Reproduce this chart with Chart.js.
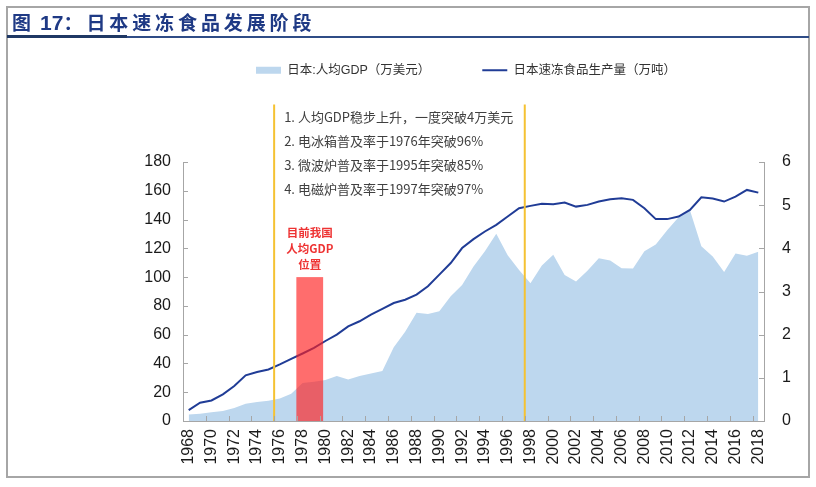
<!DOCTYPE html>
<html>
<head>
<meta charset="utf-8">
<script src="https://cdn.jsdelivr.net/npm/chart.js@4.4.1/dist/chart.umd.min.js"></script>
<style>
  html, body { margin: 0; padding: 0; background: #fff; }
  #wrap { position: relative; width: 816px; height: 487px; overflow: hidden; }
  #c { position: absolute; left: 0; top: 0; }
  #frame { position: absolute; left: 6px; top: 6px; width: 800px; height: 468px; border: 2px solid #A6A6A6; }
  #rule { position: absolute; left: 7px; top: 36px; width: 802px; height: 2px; background: #2F4C86; }
  #rule2 { position: absolute; left: 7px; top: 35px; width: 120px; height: 3px; background: #1F3864; }
  #title { position: absolute; left: 12px; top: 8px; height: 28px; line-height: 28px; color: #1F3A85;
           font-weight: bold; white-space: nowrap; font-family: 'Noto Sans CJK SC', sans-serif; font-size: 19px; }
  #title .num { font-family: 'Liberation Sans', Arial, sans-serif; font-size: 21px; margin-left: 9px; }
  #title .sp { letter-spacing: 3.9px; margin-left: 4px; }
</style>
</head>
<body>
<div id="wrap">
  <canvas id="c" width="816" height="487"></canvas>
  <div id="frame"></div>
  <div id="rule"></div>
  <div id="rule2"></div>
  <div id="title"><span>图</span><span class="num">17</span><span>：</span><span class="sp">日本速冻食品发展阶段</span></div>
</div>
<script>
// ---------------- data ----------------
const years = ['1968','1969','1970','1971','1972','1973','1974','1975','1976','1977',
  '1978','1979','1980','1981','1982','1983','1984','1985','1986','1987',
  '1988','1989','1990','1991','1992','1993','1994','1995','1996','1997',
  '1998','1999','2000','2001','2002','2003','2004','2005','2006','2007',
  '2008','2009','2010','2011','2012','2013','2014','2015','2016','2017','2018'];

// 日本:人均GDP（万美元）— right axis
const gdpPerCapita = [0.15,0.17,0.20,0.23,0.30,0.40,0.44,0.47,0.52,0.63,
  0.88,0.91,0.95,1.04,0.96,1.04,1.10,1.16,1.71,2.07,
  2.51,2.48,2.54,2.89,3.15,3.58,3.93,4.34,3.84,3.50,
  3.19,3.60,3.85,3.38,3.23,3.48,3.77,3.72,3.54,3.53,
  3.93,4.09,4.42,4.72,4.88,4.05,3.81,3.45,3.88,3.83,3.92];

// 日本速冻食品生产量（万吨）— left axis
const frozenFoodOutput = [7.6,12.7,14.3,18.5,24.3,31.7,34.0,35.8,39.3,43.2,
  46.9,50.8,55.6,60.0,65.8,69.3,74.0,77.9,82.0,84.3,
  87.8,93.6,101.7,109.8,120.2,126.4,131.7,136.3,142.1,147.9,
  149.5,151.0,150.6,151.8,149.0,150.2,152.5,154.1,154.8,153.7,
  147.9,140.3,140.3,142.1,146.7,155.5,154.6,152.5,155.9,160.6,158.7];

const seriesNames = ['日本:人均GDP（万美元）', '日本速冻食品生产量（万吨）'];
const leftAxisRange = [0, 180, 20];   // min, max, step
const rightAxisRange = [0, 6, 1];

// annotations (category positions / axis values)
const markerPositions = [7.5, 29.5];       // boundaries before 1976 and 1998
const markerTopValue = 220;                // left-axis value where the yellow lines start
const milestoneNotes = ['1. 人均GDP稳步上升，一度突破4万美元',
  '2. 电冰箱普及率于1976年突破96%',
  '3. 微波炉普及率于1995年突破85%',
  '4. 电磁炉普及率于1997年突破97%'];
const redBandRange = [9.45, 11.8];         // category positions
const redBandTop = 100;                    // left-axis value
const redBandLabel = ['目前我国', '人均GDP', '位置'];

// ---------------- styles ----------------
const AXIS_COLOR = '#A6A6A6';
const AREA_COLOR = '#BDD7EE';
const LINE_COLOR = '#203C96';
const TICK_FONT = { family: "'Liberation Sans', Arial, sans-serif", size: 16 };
const legendBlockHeight = 150;

const legendSpace = {
  id: 'legendSpace',
  beforeLayout(chart) {
    const lg = chart.legend;
    if (lg && !lg._patched) {
      const fit = lg.fit;
      lg.fit = function () { fit.call(this); this.height = legendBlockHeight; };
      lg._patched = true;
    }
  }
};

const annotations = {
  id: 'annotations',
  afterDatasetsDraw(chart) {
    const { ctx, scales: { x, y } } = chart;
    ctx.save();
    const bx0 = x.getPixelForValue(redBandRange[0]);
    const bx1 = x.getPixelForValue(redBandRange[1]);
    const by0 = y.getPixelForValue(redBandTop);
    const by1 = y.getPixelForValue(0);
    ctx.fillStyle = 'rgba(255,30,30,0.65)';
    ctx.fillRect(bx0, by0, bx1 - bx0, by1 - by0);

    const top = y.getPixelForValue(markerTopValue);
    ctx.strokeStyle = '#F5C232';
    ctx.lineWidth = 2;
    markerPositions.forEach(v => {
      const px = x.getPixelForValue(v);
      ctx.beginPath(); ctx.moveTo(px, top); ctx.lineTo(px, by1); ctx.stroke();
    });

    ctx.font = "13px 'Noto Sans CJK SC'";
    ctx.fillStyle = '#404040';
    ctx.textBaseline = 'middle';
    ctx.textAlign = 'left';
    const nx = x.getPixelForValue(markerPositions[0]) + 10;
    milestoneNotes.forEach((t, i) => ctx.fillText(t, nx, top + 13 + i * 24));

    ctx.font = "bold 11.5px 'Noto Sans CJK SC'";
    ctx.fillStyle = '#EE3333';
    ctx.textAlign = 'center';
    const cx = (bx0 + bx1) / 2;
    redBandLabel.forEach((t, i) => ctx.fillText(t, cx, by0 - 44 + i * 16));
    ctx.restore();
  }
};

const innerTicks = {
  id: 'innerTicks',
  afterDraw(chart) {
    const { ctx, chartArea: a, scales: { x, y, y1 } } = chart;
    ctx.save();
    ctx.strokeStyle = AXIS_COLOR;
    ctx.lineWidth = 1;
    ctx.beginPath();
    for (let i = 0; i <= years.length; i += 2) {
      const px = Math.round(x.getPixelForValue(i - 0.5)) + 0.5;
      ctx.moveTo(px, a.bottom); ctx.lineTo(px, a.bottom - 5);
    }
    y.ticks.forEach(t => {
      const py = Math.round(y.getPixelForValue(t.value)) + 0.5;
      ctx.moveTo(a.left, py); ctx.lineTo(a.left + 5, py);
    });
    y1.ticks.forEach(t => {
      const py = Math.round(y1.getPixelForValue(t.value)) + 0.5;
      ctx.moveTo(a.right, py); ctx.lineTo(a.right - 5, py);
    });
    ctx.stroke();
    ctx.restore();
  }
};

new Chart(document.getElementById('c'), {
  type: 'line',
  data: {
    labels: years,
    datasets: [
      { label: seriesNames[0], data: gdpPerCapita, yAxisID: 'y1', fill: 'origin',
        backgroundColor: AREA_COLOR, borderWidth: 0, pointRadius: 0, tension: 0, order: 2 },
      { label: seriesNames[1], data: frozenFoodOutput, yAxisID: 'y', fill: false,
        borderColor: LINE_COLOR, borderWidth: 2, pointRadius: 0, tension: 0, order: 1 }
    ]
  },
  options: {
    responsive: false,
    animation: false,
    layout: { padding: { left: 138, right: 22, top: 12, bottom: 16 } },
    plugins: {
      tooltip: { enabled: false },
      legend: {
        display: true,
        position: 'top',
        labels: {
          usePointStyle: true,
          pointStyleWidth: 25,
          boxHeight: 7,
          padding: 52,
          color: '#333',
          font: { family: "'Liberation Sans', Arial, 'Noto Sans CJK SC', sans-serif", size: 12.5 },
          generateLabels: () => [
            { text: seriesNames[0], fillStyle: AREA_COLOR, strokeStyle: 'rgba(0,0,0,0)', lineWidth: 0,
              pointStyle: 'rect', hidden: false, datasetIndex: 0, fontColor: '#333' },
            { text: seriesNames[1], fillStyle: LINE_COLOR, strokeStyle: LINE_COLOR, lineWidth: 2,
              pointStyle: 'line', hidden: false, datasetIndex: 1, fontColor: '#333' }
          ]
        }
      }
    },
    scales: {
      x: {
        offset: true,
        grid: { display: false, drawTicks: false },
        border: { display: true, color: AXIS_COLOR, width: 1 },
        ticks: {
          autoSkip: false, maxRotation: 90, minRotation: 90, padding: 8,
          font: TICK_FONT, color: '#1a1a1a',
          callback: (v, i) => (i % 2 === 0 ? years[i] : '')
        },
        afterFit: s => { s.height = 50; }
      },
      y: {
        position: 'left',
        min: leftAxisRange[0], max: leftAxisRange[1],
        grid: { display: false, drawTicks: false },
        border: { display: true, color: AXIS_COLOR, width: 1 },
        ticks: { stepSize: leftAxisRange[2], padding: 12, font: TICK_FONT, color: '#1a1a1a' },
        afterFit: s => { s.width = 45; }
      },
      y1: {
        position: 'right',
        min: rightAxisRange[0], max: rightAxisRange[1],
        grid: { display: false, drawTicks: false },
        border: { display: true, color: AXIS_COLOR, width: 1 },
        ticks: { stepSize: rightAxisRange[2], padding: 18, font: TICK_FONT, color: '#1a1a1a' },
        afterFit: s => { s.width = 30; }
      }
    }
  },
  plugins: [legendSpace, annotations, innerTicks]
});
</script>
</body>
</html>
